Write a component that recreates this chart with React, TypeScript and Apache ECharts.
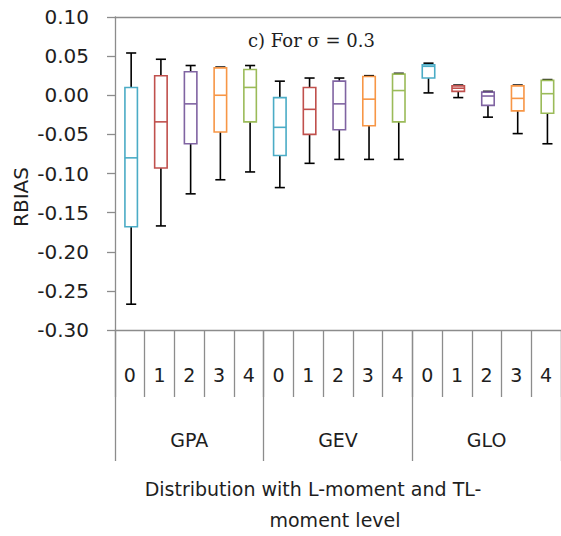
import React, { useEffect, useRef } from "react";
import * as echarts from "echarts";

const levels = ["0", "1", "2", "3", "4", "0", "1", "2", "3", "4", "0", "1", "2", "3", "4"];
const groups = ["GPA", "GEV", "GLO"];
const whiskerHigh = [0.054, 0.046, 0.038, 0.036, 0.038, 0.018, 0.022, 0.022, 0.025, 0.028, 0.041, 0.013, 0.005, 0.013, 0.020];
const q3 = [0.010, 0.025, 0.030, 0.035, 0.033, -0.003, 0.010, 0.018, 0.024, 0.027, 0.039, 0.012, 0.004, 0.012, 0.019];
const median = [-0.080, -0.034, -0.011, 0.000, 0.010, -0.041, -0.018, -0.011, -0.005, 0.006, 0.037, 0.009, -0.001, -0.004, 0.002];
const q1 = [-0.168, -0.093, -0.062, -0.047, -0.034, -0.077, -0.050, -0.044, -0.039, -0.034, 0.022, 0.005, -0.013, -0.020, -0.023];
const whiskerLow = [-0.267, -0.167, -0.126, -0.108, -0.098, -0.118, -0.087, -0.082, -0.082, -0.082, 0.003, -0.003, -0.028, -0.049, -0.062];
const levelColors = ["#4BACC6", "#C0504D", "#8064A2", "#F79646", "#9BBB59"];

const AXIS = "#8c8c8c";
const TEXT = "#1e1e1e";
const SANS = "DejaVu Sans";

export default function App() {
  const ref = useRef<HTMLDivElement>(null);
  useEffect(() => {
    if (!ref.current) return;
    const chart = echarts.init(ref.current, null, { renderer: "svg" });
    const data = levels.map((_, i) => [i, whiskerLow[i], q1[i], median[i], q3[i], whiskerHigh[i]]);
    chart.setOption({
      animation: false,
      backgroundColor: "#ffffff",
      grid: { left: 115, top: 17, width: 450, height: 313 },
      xAxis: [
        {
          type: "category",
          data: levels,
          position: "bottom",
          axisLine: { show: true, onZero: false, lineStyle: { color: AXIS, width: 1.3 } },
          axisTick: { show: true, alignWithLabel: false, length: 67, lineStyle: { color: AXIS, width: 1.3 } },
          axisLabel: { color: TEXT, fontFamily: SANS, fontSize: 19, margin: 45, verticalAlign: "middle", interval: 0 },
          splitLine: { show: false },
        },
        {
          type: "category",
          data: groups,
          position: "bottom",
          axisLine: { show: false, onZero: false },
          axisTick: { show: true, alignWithLabel: false, length: 131, lineStyle: { color: AXIS, width: 1.3 } },
          axisLabel: { color: TEXT, fontFamily: SANS, fontSize: 19, margin: 110, verticalAlign: "middle", interval: 0 },
          splitLine: { show: false },
        },
        {
          type: "category",
          data: groups,
          position: "top",
          axisLine: { show: true, onZero: false, lineStyle: { color: AXIS, width: 1.3 } },
          axisTick: { show: false },
          axisLabel: { show: false },
          splitLine: { show: false },
        },
      ],
      yAxis: {
        type: "value",
        min: -0.3,
        max: 0.1,
        interval: 0.05,
        axisLine: { show: true, onZero: false, lineStyle: { color: AXIS, width: 1.3 } },
        axisTick: { show: true, length: 8, lineStyle: { color: AXIS, width: 1.3 } },
        axisLabel: {
          color: TEXT,
          fontFamily: SANS,
          fontSize: 20,
          margin: 26,
          formatter: (v: number) => v.toFixed(2),
        },
        splitLine: { show: false },
      },
      graphic: [
        {
          type: "text",
          left: 248,
          top: 31,
          style: { text: "c) For σ = 0.3", font: '18px "DejaVu Serif"', fill: TEXT },
        },
        {
          type: "text",
          x: 21,
          y: 197,
          rotation: Math.PI / 2,
          style: { text: "RBIAS", font: `20px "${SANS}"`, fill: TEXT, align: "center", verticalAlign: "middle" },
        },
        {
          type: "text",
          x: 313,
          y: 489,
          style: { text: "Distribution with L-moment and TL-", font: `19px "${SANS}"`, fill: TEXT, align: "center", verticalAlign: "middle" },
        },
        {
          type: "text",
          x: 335,
          y: 520,
          style: { text: "moment level", font: `19px "${SANS}"`, fill: TEXT, align: "center", verticalAlign: "middle" },
        },
      ],
      series: [
        {
          type: "custom",
          xAxisIndex: 0,
          yAxisIndex: 0,
          encode: { x: 0, y: [1, 2, 3, 4, 5] },
          data,
          renderItem: (params: any, api: any) => {
            const idx = api.value(0);
            const color = levelColors[idx % 5];
            const band = api.size([1, 0])[0];
            const boxHalf = band * 0.21;
            const capHalf = band * 0.17;
            const pLow = api.coord([idx, api.value(1)]);
            const pQ1 = api.coord([idx, api.value(2)]);
            const pMed = api.coord([idx, api.value(3)]);
            const pQ3 = api.coord([idx, api.value(4)]);
            const pHigh = api.coord([idx, api.value(5)]);
            const cx = pMed[0] + 1.3;
            const black = { stroke: "#000000", lineWidth: 1.6 };
            return {
              type: "group",
              children: [
                { type: "line", shape: { x1: cx, y1: pHigh[1], x2: cx, y2: pQ3[1] }, style: black },
                { type: "line", shape: { x1: cx, y1: pQ1[1], x2: cx, y2: pLow[1] }, style: black },
                { type: "line", shape: { x1: cx - capHalf, y1: pHigh[1], x2: cx + capHalf, y2: pHigh[1] }, style: black },
                { type: "line", shape: { x1: cx - capHalf, y1: pLow[1], x2: cx + capHalf, y2: pLow[1] }, style: black },
                {
                  type: "rect",
                  shape: { x: cx - boxHalf, y: pQ3[1], width: boxHalf * 2, height: pQ1[1] - pQ3[1] },
                  style: { fill: "#ffffff", stroke: color, lineWidth: 1.6 },
                },
                {
                  type: "line",
                  shape: { x1: cx - boxHalf, y1: pMed[1], x2: cx + boxHalf, y2: pMed[1] },
                  style: { stroke: color, lineWidth: 1.6 },
                },
              ],
            };
          },
        },
      ],
    });
    return () => chart.dispose();
  }, []);
  return (
    <div
      ref={ref}
      style={{ position: "fixed", left: 0, top: 0, width: 561, height: 536, background: "#fff" }}
    />
  );
}
